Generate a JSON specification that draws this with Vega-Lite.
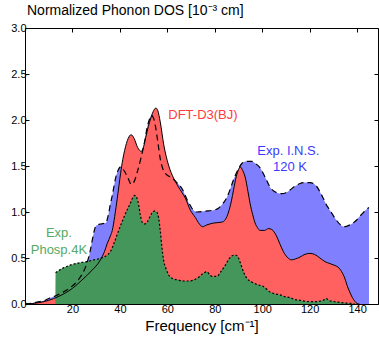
{
  "$schema": "https://vega.github.io/schema/vega-lite/v6.json",
  "width": 353,
  "height": 276,
  "autosize": "none",
  "padding": {"left": 25, "top": 28, "right": 1, "bottom": 34},
  "background": "white",
  "config": {
    "view": {"stroke": "black", "strokeWidth": 1},
    "font": "Liberation Sans",
    "axis": {"domain": false, "grid": false, "tickColor": "black", "labelColor": "black", "titleColor": "black", "labelFont": "Liberation Sans", "titleFont": "Liberation Sans"}
  },
  "title": {"text": "Normalized Phonon DOS [10⁻³ cm]", "anchor": "start", "frame": "group", "fontSize": 14, "fontWeight": "normal", "font": "Liberation Sans", "color": "black", "offset": 4, "dx": 2},
  "datasets": {
    "ins": [
      {"f":0,"v":0},{"f":3,"v":0.01},{"f":6,"v":0.025},{"f":8.5,"v":0.04},{"f":10.4,"v":0.065},{"f":13,"v":0.09},{"f":15.8,"v":0.125},{"f":19.2,"v":0.18},{"f":22.7,"v":0.27},{"f":25,"v":0.37},{"f":26.3,"v":0.46},{"f":27.5,"v":0.58},{"f":28.4,"v":0.7},{"f":29.7,"v":0.84},{"f":30.5,"v":0.86},{"f":32,"v":0.87},{"f":34,"v":0.88},{"f":35.3,"v":0.99},{"f":36,"v":1.09},{"f":36.8,"v":1.18},{"f":37.5,"v":1.28},{"f":38.2,"v":1.37},{"f":39.2,"v":1.45},{"f":40.3,"v":1.49},{"f":41.2,"v":1.47},{"f":42,"v":1.44},{"f":43.4,"v":1.37},{"f":44.8,"v":1.3},{"f":46,"v":1.33},{"f":47.5,"v":1.45},{"f":49,"v":1.6},{"f":50.3,"v":1.75},{"f":51.5,"v":1.92},{"f":52.5,"v":2.01},{"f":53.3,"v":2.05},{"f":54.2,"v":2.02},{"f":55,"v":1.93},{"f":56,"v":1.76},{"f":57,"v":1.58},{"f":58.4,"v":1.45},{"f":60,"v":1.4},{"f":62,"v":1.37},{"f":64,"v":1.32},{"f":66.5,"v":1.24},{"f":68.4,"v":1.13},{"f":69.7,"v":1.07},{"f":71,"v":1.02},{"f":72.5,"v":1.0},{"f":76,"v":1.01},{"f":79.5,"v":1.02},{"f":81.5,"v":1.04},{"f":83,"v":1.08},{"f":84.5,"v":1.13},{"f":85.8,"v":1.2},{"f":87.9,"v":1.35},{"f":90,"v":1.47},{"f":91.5,"v":1.53},{"f":92.8,"v":1.55},{"f":95.6,"v":1.55},{"f":97.5,"v":1.52},{"f":99.1,"v":1.48},{"f":101.2,"v":1.38},{"f":103.3,"v":1.27},{"f":106.1,"v":1.21},{"f":108.2,"v":1.2},{"f":110,"v":1.21},{"f":111.7,"v":1.24},{"f":113.8,"v":1.28},{"f":115.9,"v":1.31},{"f":118,"v":1.32},{"f":120.1,"v":1.32},{"f":122.9,"v":1.28},{"f":124.3,"v":1.22},{"f":125.7,"v":1.15},{"f":127,"v":1.08},{"f":128.5,"v":1.02},{"f":131.3,"v":0.91},{"f":133,"v":0.86},{"f":134.8,"v":0.84},{"f":136.9,"v":0.86},{"f":138.3,"v":0.88},{"f":139.7,"v":0.91},{"f":141,"v":0.95},{"f":142.5,"v":0.99},{"f":143.5,"v":1.02},{"f":145,"v":1.05}
    ],
    "dft": [
      {"f":0,"v":0},{"f":3,"v":0.005},{"f":6,"v":0.015},{"f":10,"v":0.04},{"f":14,"v":0.08},{"f":17,"v":0.12},{"f":20,"v":0.17},{"f":24,"v":0.26},{"f":28,"v":0.36},{"f":31.8,"v":0.48},{"f":33.5,"v":0.57},{"f":34.7,"v":0.66},{"f":36,"v":0.74},{"f":36.8,"v":0.8},{"f":37.8,"v":0.95},{"f":38.9,"v":1.15},{"f":40.3,"v":1.42},{"f":41.2,"v":1.57},{"f":42,"v":1.67},{"f":43.5,"v":1.8},{"f":44.7,"v":1.84},{"f":46,"v":1.8},{"f":47.5,"v":1.7},{"f":49,"v":1.66},{"f":50,"v":1.71},{"f":50.8,"v":1.8},{"f":52,"v":1.93},{"f":52.9,"v":2.01},{"f":54,"v":2.09},{"f":55.2,"v":2.13},{"f":56,"v":2.1},{"f":57,"v":1.98},{"f":58.5,"v":1.73},{"f":60.5,"v":1.51},{"f":62.6,"v":1.37},{"f":64.5,"v":1.28},{"f":66.2,"v":1.21},{"f":67.6,"v":1.15},{"f":69.7,"v":1.02},{"f":71.8,"v":0.94},{"f":73.5,"v":0.87},{"f":74.8,"v":0.84},{"f":76.7,"v":0.86},{"f":79.5,"v":0.88},{"f":83,"v":0.89},{"f":84.5,"v":0.92},{"f":85.8,"v":1.0},{"f":87,"v":1.12},{"f":87.9,"v":1.24},{"f":89,"v":1.38},{"f":90,"v":1.46},{"f":90.7,"v":1.49},{"f":91.8,"v":1.45},{"f":92.8,"v":1.38},{"f":94,"v":1.22},{"f":94.9,"v":1.09},{"f":96,"v":0.97},{"f":97,"v":0.88},{"f":98,"v":0.83},{"f":99.1,"v":0.8},{"f":101,"v":0.8},{"f":102.6,"v":0.82},{"f":104,"v":0.81},{"f":106,"v":0.74},{"f":107.5,"v":0.65},{"f":108.9,"v":0.57},{"f":110.5,"v":0.51},{"f":112.4,"v":0.48},{"f":114,"v":0.49},{"f":115.9,"v":0.51},{"f":118,"v":0.54},{"f":120.1,"v":0.55},{"f":122,"v":0.54},{"f":124.3,"v":0.5},{"f":126.5,"v":0.46},{"f":128.5,"v":0.44},{"f":130.5,"v":0.42},{"f":132,"v":0.4},{"f":133.5,"v":0.35},{"f":134.8,"v":0.28},{"f":135.8,"v":0.2},{"f":136.9,"v":0.13},{"f":138,"v":0.07},{"f":139,"v":0.03},{"f":140,"v":0.005},{"f":141,"v":0}
    ],
    "phosp": [
      {"f":12.8,"v":0},{"f":12.9,"v":0.34},{"f":14,"v":0.36},{"f":16,"v":0.39},{"f":17.8,"v":0.41},{"f":20,"v":0.43},{"f":23.4,"v":0.45},{"f":26,"v":0.46},{"f":29,"v":0.48},{"f":31,"v":0.49},{"f":33.2,"v":0.51},{"f":35,"v":0.54},{"f":36,"v":0.57},{"f":37.5,"v":0.66},{"f":39.5,"v":0.8},{"f":41,"v":0.9},{"f":43,"v":1.02},{"f":44.5,"v":1.1},{"f":45.5,"v":1.16},{"f":46.3,"v":1.18},{"f":47.2,"v":1.15},{"f":47.9,"v":1.08},{"f":48.6,"v":0.97},{"f":49.4,"v":0.89},{"f":50.5,"v":0.87},{"f":51.5,"v":0.89},{"f":52.5,"v":0.94},{"f":53.5,"v":0.99},{"f":54.5,"v":1.01},{"f":55.5,"v":1.0},{"f":56.3,"v":0.94},{"f":57,"v":0.8},{"f":57.7,"v":0.62},{"f":58.4,"v":0.48},{"f":59.5,"v":0.38},{"f":60.5,"v":0.32},{"f":62,"v":0.28},{"f":64.7,"v":0.26},{"f":67,"v":0.25},{"f":69,"v":0.25},{"f":71,"v":0.26},{"f":73.2,"v":0.29},{"f":75,"v":0.33},{"f":76.7,"v":0.35},{"f":77.8,"v":0.32},{"f":78.8,"v":0.3},{"f":80.9,"v":0.3},{"f":82.5,"v":0.35},{"f":84.4,"v":0.42},{"f":86,"v":0.49},{"f":87.9,"v":0.53},{"f":89,"v":0.53},{"f":90,"v":0.5},{"f":91,"v":0.43},{"f":92.1,"v":0.35},{"f":93.5,"v":0.28},{"f":95.6,"v":0.24},{"f":98,"v":0.21},{"f":100.5,"v":0.19},{"f":103.3,"v":0.13},{"f":105.5,"v":0.11},{"f":107.5,"v":0.1},{"f":109.5,"v":0.08},{"f":111.7,"v":0.07},{"f":113.5,"v":0.05},{"f":115.9,"v":0.04},{"f":118,"v":0.03},{"f":120,"v":0.025},{"f":122,"v":0.025},{"f":124,"v":0.03},{"f":125.7,"v":0.04},{"f":127,"v":0.06},{"f":128,"v":0.04},{"f":129.5,"v":0.03},{"f":132,"v":0.02},{"f":135.5,"v":0.01},{"f":138,"v":0.005},{"f":139,"v":0}
    ],
    "labels": [
      {"label":"DFT-D3(BJ)","f":75,"v":2.05,"series":"DFT"},
      {"label":"Exp. I.N.S.","f":111,"v":1.66,"series":"INS"},
      {"label":"120 K","f":111.7,"v":1.49,"series":"INS"},
      {"label":"Exp.","f":14.3,"v":0.775,"series":"Phosp"},
      {"label":"Phosp.4K","f":14.3,"v":0.587,"series":"Phosp"}
    ]
  },
  "encoding": {
    "x": {"field": "f", "type": "quantitative", "scale": {"domain": [0, 148.8], "nice": false, "zero": false}, "axis": null},
    "y": {"field": "v", "type": "quantitative", "scale": {"domain": [0, 3], "nice": false}, "axis": null}
  },
  "layer": [
    {
      "data": {"name": "ins"},
      "mark": {"type": "area", "color": "#8080ff", "interpolate": "monotone"},
      "encoding": {
        "x": {"field": "f", "type": "quantitative", "scale": {"domain": [0, 148.8], "nice": false, "zero": false},
              "axis": {"orient": "bottom", "values": [20,40,60,80,100,120,140], "title": "Frequency [cm⁻¹]", "titleFontSize": 15, "titleFontWeight": "normal", "titlePadding": 4, "labelFontSize": 11, "tickSize": -4, "labelPadding": 3}},
        "y": {"field": "v", "type": "quantitative", "scale": {"domain": [0, 3], "nice": false},
              "axis": {"orient": "left", "values": [0,0.5,1,1.5,2,2.5,3], "format": ".1f", "title": null, "labelFontSize": 11, "tickSize": -4, "labelPadding": 3}}
      }
    },
    {
      "data": {"name": "dft"},
      "mark": {"type": "area", "color": "#ff6060", "interpolate": "monotone"},
      "encoding": {
        "x": {"field": "f", "type": "quantitative", "scale": {"domain": [0, 148.8], "nice": false, "zero": false},
              "axis": {"orient": "top", "values": [20,40,60,80,100,120,140], "labels": false, "title": null, "tickSize": -4, "zindex": 1}},
        "y": {"field": "v", "type": "quantitative", "scale": {"domain": [0, 3], "nice": false},
              "axis": {"orient": "right", "values": [0,0.5,1,1.5,2,2.5,3], "labels": false, "title": null, "tickSize": -4, "zindex": 1}}
      }
    },
    {
      "data": {"name": "phosp"},
      "mark": {"type": "area", "color": "#45965a", "interpolate": "monotone"}
    },
    {
      "data": {"name": "ins"},
      "mark": {"type": "line", "color": "black", "strokeWidth": 1.2, "strokeDash": [6, 4], "interpolate": "monotone"}
    },
    {
      "data": {"name": "dft"},
      "mark": {"type": "line", "color": "black", "strokeWidth": 1, "interpolate": "monotone"}
    },
    {
      "data": {"name": "phosp"},
      "transform": [{"filter": "datum.f > 12.85"}],
      "mark": {"type": "line", "color": "black", "strokeWidth": 1.2, "strokeDash": [2, 2], "interpolate": "monotone"}
    },
    {
      "data": {"name": "labels"},
      "mark": {"type": "text", "fontSize": 13, "font": "Liberation Sans", "baseline": "middle", "align": "center"},
      "encoding": {
        "text": {"field": "label"},
        "color": {"field": "series", "type": "nominal", "scale": {"domain": ["DFT", "INS", "Phosp"], "range": ["#ff3b3b", "#3a3aff", "#55aa66"]}, "legend": null}
      }
    }
  ],
  "resolve": {"axis": {"x": "independent", "y": "independent"}}
}
